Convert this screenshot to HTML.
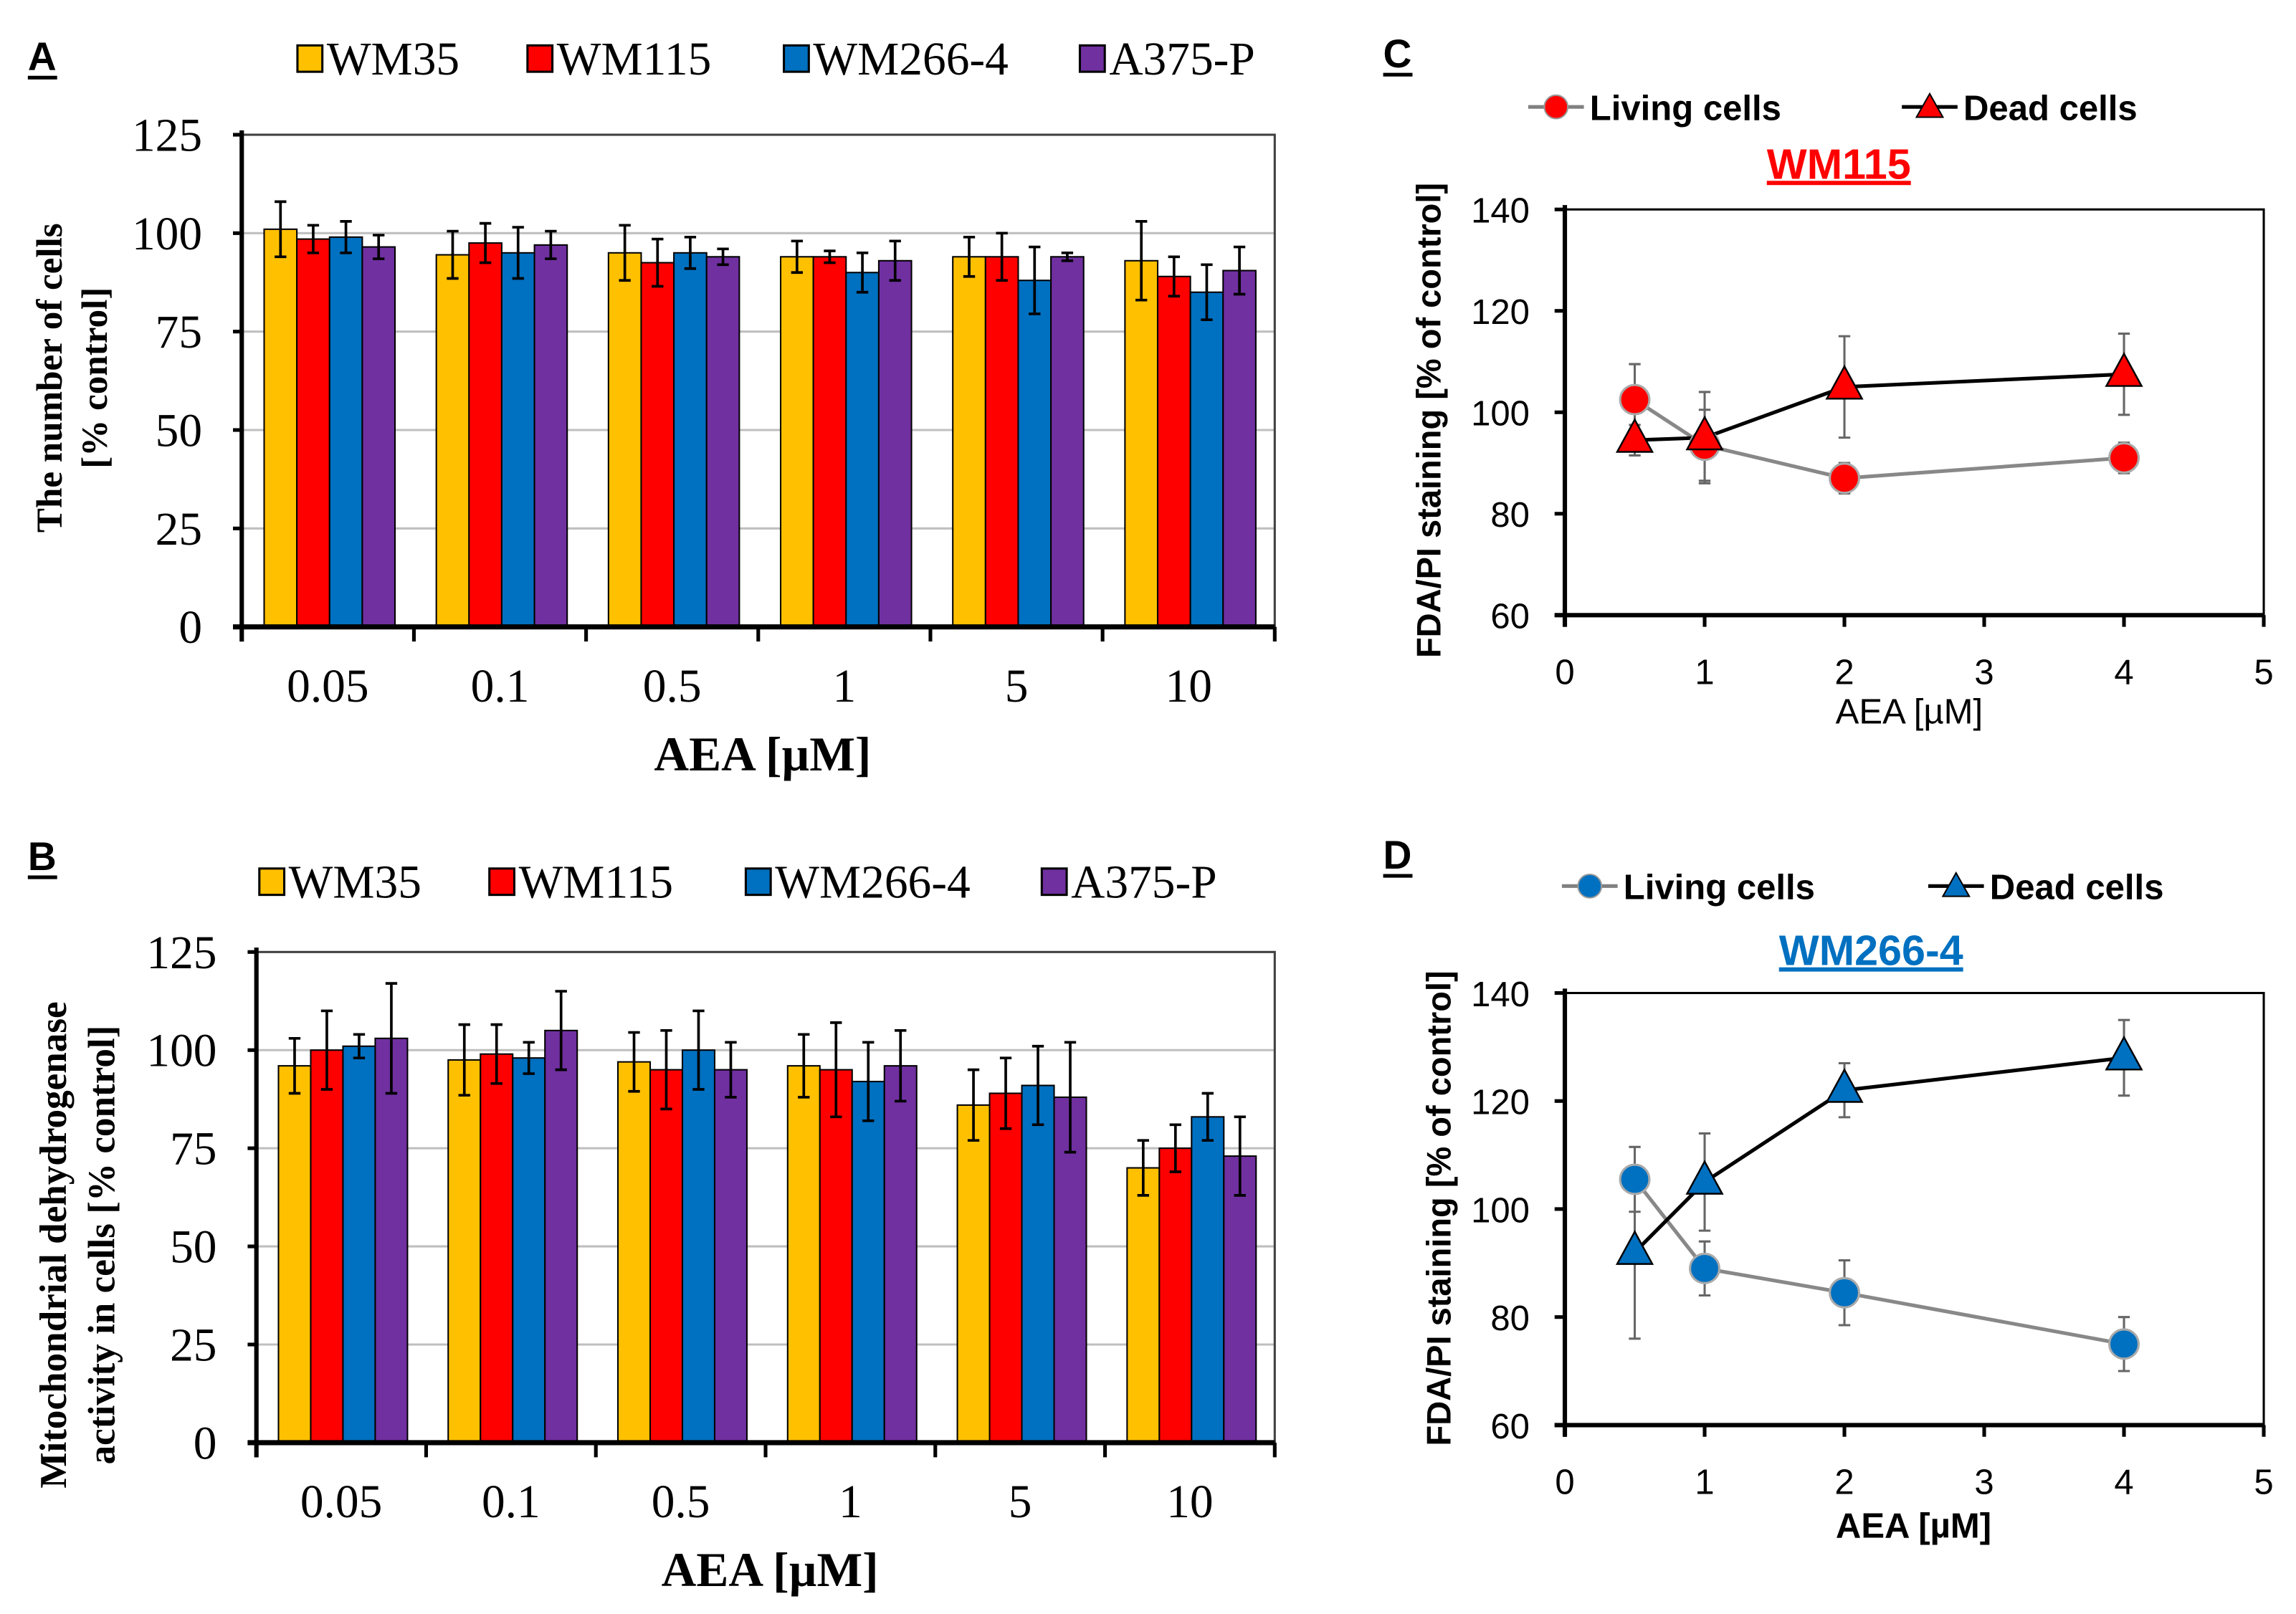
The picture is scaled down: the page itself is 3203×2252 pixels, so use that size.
<!DOCTYPE html>
<html><head><meta charset="utf-8"><style>
html,body{margin:0;padding:0;background:#fff;}
svg{display:block;}
</style></head><body>
<svg id="fig" width="3203" height="2252" viewBox="0 0 1567 1102" preserveAspectRatio="none" xmlns="http://www.w3.org/2000/svg"></svg>
<script>
// ---- data ----
const categories = ["0.05","0.1","0.5","1","5","10"];
const seriesNames = ["WM35","WM115","WM266-4","A375-P"];
const seriesColors = ["#FFC000","#FF0000","#0070C0","#7030A0"];
const aWM35 = [101,94.5,95,94,94,93];
const aWM115 = [98.5,97.5,92.5,94,94,89];
const aWM266 = [99,95,95,90,88,85];
const aA375 = [96.5,97,94,93,94,90.5];
const aErrWM35 = [7,6,7,4,5,10];
const aErrWM115 = [3.5,5,6,1.5,6,5];
const aErrWM266 = [4,6.5,4,5,8.5,7];
const aErrA375 = [3,3.5,2,5,1,6];
const bWM35 = [96,97.5,97,96,86,70];
const bWM115 = [100,99,95,95,89,75];
const bWM266 = [101,98,100,92,91,83];
const bA375 = [103,105,95,96,88,73];
const bErrWM35 = [7,9,7.5,8,9,7];
const bErrWM115 = [10,7.5,10,12,9,6];
const bErrWM266 = [3,4,10,10,10,6];
const bErrA375 = [14,10,7,9,14,10];
const barTicks = [0,25,50,75,100,125];
const lineX = [0.5,1,2,4];
const cLiving = [102.5,93.5,87,91];
const cLivingErr = [7,7,3,3];
const cDead = [94.5,95,105,107.5];
const cDeadErr = [3,9,10,8];
const dLiving = [105.5,89,84.5,75];
const dLivingErr = [6,5,6,5];
const dDead = [92,105,122,128];
const dDeadErr = [16,9,5,7];
const lineYTicks = [60,80,100,120,140];
const lineXTicks = [0,1,2,3,4,5];

const NS="http://www.w3.org/2000/svg";
const svg=document.getElementById('fig');
function mk(tag,attrs,parent){const e=document.createElementNS(NS,tag);for(const k in attrs)e.setAttribute(k,attrs[k]);(parent||svg).appendChild(e);return e;}
function txt(s,attrs,parent){const e=mk('text',attrs,parent);e.textContent=s;return e;}
const TNR='"Liberation Serif", serif', ARI='"Liberation Sans", sans-serif';

function barPanel(letter,ly,top,bot,left,right,vals,errs,ytitle,legY,legX,xtitleY){
  const g=mk('g',{});
  
  
  const pl=txt(letter,{x:19,y:ly,'font-family':ARI,'font-weight':'bold','font-size':27},g);
  
  
  mk('line',{x1:19,x2:39,y1:ly+5,y2:ly+5,stroke:'#000','stroke-width':2.5},g);
  for(let s=0;s<4;s++){
    const lg=mk('g',{},g);
    
    
    mk('rect',{x:legX[s],y:legY-9,width:17,height:18,fill:seriesColors[s],stroke:'#000','stroke-width':1.5},lg);
    txt(seriesNames[s],{x:legX[s]+20,y:legY+11,'font-family':TNR,'font-size':32},lg);
  }
  const y=v=>bot-(v/125)*(bot-top);
  barTicks.forEach(t=>{
    if(t>0&&t<125) mk('line',{x1:left,x2:right,y1:y(t),y2:y(t),stroke:'#bfbfbf','stroke-width':1.5},g);
    mk('line',{x1:left-6,x2:left,y1:y(t),y2:y(t),stroke:'#000','stroke-width':2.5},g);
    const tl=txt(String(t),{x:left-27,y:y(t)+11,'text-anchor':'end','font-family':TNR,'font-size':32},g);
    
    
  });
  mk('rect',{x:left,y:top,width:right-left,height:bot-top,fill:'none',stroke:'#404040','stroke-width':1.5},g);
  const cw=(right-left)/categories.length, bw=cw*0.19;
  for(let c=0;c<categories.length;c++){
    const gx=left+c*cw+cw*0.13;
    for(let s=0;s<4;s++){
      const v=vals[s][c], e=errs[s][c], x=gx+s*bw;
      const r=mk('rect',{x:x,y:y(v),width:bw,height:bot-y(v),fill:seriesColors[s],stroke:'#000','stroke-width':1},g);
      
      
      const cx=x+bw/2;
      mk('line',{x1:cx,x2:cx,y1:y(v+e),y2:y(v-e),stroke:'#000','stroke-width':1.8},g);
      mk('line',{x1:cx-4,x2:cx+4,y1:y(v+e),y2:y(v+e),stroke:'#000','stroke-width':1.8},g);
      mk('line',{x1:cx-4,x2:cx+4,y1:y(v-e),y2:y(v-e),stroke:'#000','stroke-width':1.8},g);
    }
    const xl=txt(categories[c],{x:left+(c+0.5)*cw,y:bot+51,'text-anchor':'middle','font-family':TNR,'font-size':32},g);
    
    
  }
  for(let c=0;c<=categories.length;c++) mk('line',{x1:left+c*cw,x2:left+c*cw,y1:bot,y2:bot+10,stroke:'#000','stroke-width':2.5},g);
  mk('line',{x1:left,x2:left,y1:top-3,y2:bot+10,stroke:'#000','stroke-width':3},g);
  mk('line',{x1:left-6,x2:right,y1:bot,y2:bot,stroke:'#000','stroke-width':3.5},g);
  const xt=txt('AEA [µM]',{x:(left+right)/2+3,y:xtitleY,'text-anchor':'middle','font-family':TNR,'font-weight':'bold','font-size':33},g);
  
  
  const yt=mk('text',{transform:`translate(${ytitle.x},${ytitle.cy}) rotate(-90)`,'text-anchor':'middle','font-family':TNR,'font-weight':'bold','font-size':ytitle.fs},g);
  
  
  ytitle.lines.forEach((l,i)=>{const ts=mk('tspan',{x:0,dy:i?ytitle.lh:0},yt);ts.textContent=l;});
}
barPanel('A',48,92,428,165,870,[aWM35,aWM115,aWM266,aA375],[aErrWM35,aErrWM115,aErrWM266,aErrA375],
  {x:42,cy:258,fs:25,lh:31,lines:['The number of cells','[% control]']},40,[203,360,535,737],526);
barPanel('B',594,650,985,175,870,[bWM35,bWM115,bWM266,bA375],[bErrWM35,bErrWM115,bErrWM266,bErrA375],
  {x:45,cy:850,fs:26,lh:33,lines:['Mitochondrial dehydrogenase','activity in cells [% control]']},602,[177,334,509,711],1083);

function linePanel(letter,ly,top,bot,left,right,color,title,titleX,titleY,legY,legX,living,livErr,dead,deadErr,ytCx,ytCy,xtX,xtY,xtBold){
  const g=mk('g',{});
  
  
  const pl=txt(letter,{x:944,y:ly,'font-family':ARI,'font-weight':'bold','font-size':27},g);
  
  
  mk('line',{x1:944,x2:964,y1:ly+5,y2:ly+5,stroke:'#000','stroke-width':2.5},g);
  const x=v=>left+v/5*(right-left), y=v=>bot-(v-60)/80*(bot-top);
  const l1=mk('g',{},g);
  
  
  mk('line',{x1:legX[0],x2:legX[0]+38,y1:legY,y2:legY,stroke:'#808080','stroke-width':2.5},l1);
  mk('circle',{cx:legX[0]+19,cy:legY,r:8,fill:color,stroke:'#999','stroke-width':1},l1);
  txt('Living cells',{x:legX[0]+42,y:legY+9,'font-family':ARI,'font-weight':'bold','font-size':24},l1);
  const l2=mk('g',{},g);
  
  
  mk('line',{x1:legX[1],x2:legX[1]+38,y1:legY,y2:legY,stroke:'#000','stroke-width':2.5},l2);
  mk('path',{d:`M${legX[1]+19},${legY-9} L${legX[1]+28},${legY+7} L${legX[1]+10},${legY+7} Z`,fill:color,stroke:'#000','stroke-width':1},l2);
  txt('Dead cells',{x:legX[1]+42,y:legY+9,'font-family':ARI,'font-weight':'bold','font-size':24},l2);
  const tt=txt(title,{x:titleX,y:titleY,'text-anchor':'middle','font-family':ARI,'font-weight':'bold','font-size':29,fill:color,'text-decoration':'underline'},g);
  
  
  mk('rect',{x:left,y:top,width:right-left,height:bot-top,fill:'none',stroke:'#000','stroke-width':1.5},g);
  lineYTicks.forEach(t=>{
    mk('line',{x1:left-7,x2:left,y1:y(t),y2:y(t),stroke:'#000','stroke-width':2.5},g);
    const tl=txt(String(t),{x:left-24,y:y(t)+9,'text-anchor':'end','font-family':ARI,'font-size':24},g);
    
    
  });
  lineXTicks.forEach(t=>{
    mk('line',{x1:x(t),x2:x(t),y1:bot,y2:bot+8,stroke:'#000','stroke-width':2.5},g);
    const tl=txt(String(t),{x:x(t),y:bot+47,'text-anchor':'middle','font-family':ARI,'font-size':24},g);
    
    
  });
  mk('line',{x1:left,x2:left,y1:top-3,y2:bot+8,stroke:'#000','stroke-width':3},g);
  mk('line',{x1:left-7,x2:right,y1:bot,y2:bot,stroke:'#000','stroke-width':3},g);
  function errs(vals,e){
    for(let i=0;i<lineX.length;i++){
      const cx=x(lineX[i]);
      mk('line',{x1:cx,x2:cx,y1:y(vals[i]+e[i]),y2:y(vals[i]-e[i]),stroke:'#666','stroke-width':1.5},g);
      [vals[i]+e[i],vals[i]-e[i]].forEach(v=>mk('line',{x1:cx-4,x2:cx+4,y1:y(v),y2:y(v),stroke:'#666','stroke-width':1.5},g));
    }
  }
  errs(living,livErr); errs(dead,deadErr);
  const lp=mk('polyline',{points:lineX.map((v,i)=>x(v)+','+y(living[i])).join(' '),fill:'none',stroke:'#888','stroke-width':2.5},g);
  
  
  const dp=mk('polyline',{points:lineX.map((v,i)=>x(v)+','+y(dead[i])).join(' '),fill:'none',stroke:'#000','stroke-width':2.5},g);
  
  
  for(let i=0;i<lineX.length;i++){
    const c=mk('circle',{cx:x(lineX[i]),cy:y(living[i]),r:10,fill:color,stroke:'#aaa','stroke-width':1.5},g);
    
    
  }
  for(let i=0;i<lineX.length;i++){
    const cx=x(lineX[i]),cy=y(dead[i]);
    const t=mk('path',{d:`M${cx},${cy-14} L${cx+12},${cy+8} L${cx-12},${cy+8} Z`,fill:color,stroke:'#000','stroke-width':1.2},g);
    
    
  }
  const xt=txt('AEA [µM]',{x:xtX,y:xtY,'text-anchor':'middle','font-family':ARI,'font-weight':xtBold?'bold':'normal','font-size':24},g);
  
  
  const yt=txt('FDA/PI staining [% of control]',{transform:`translate(${ytCx},${ytCy}) rotate(-90)`,'text-anchor':'middle','font-family':ARI,'font-weight':'bold','font-size':23},g);
  
  
}
linePanel('C',46,143,420,1068,1545,'#FF0000','WM115',1255,122,73,[1043,1298],cLiving,cLivingErr,cDead,cDeadErr,983,287,1303,494,false);
linePanel('D',593,678,973,1068,1545,'#0070C0','WM266-4',1277,659,605,[1066,1316],dLiving,dLivingErr,dDead,dDeadErr,990,825,1306,1050,true);
</script>
</body></html>
